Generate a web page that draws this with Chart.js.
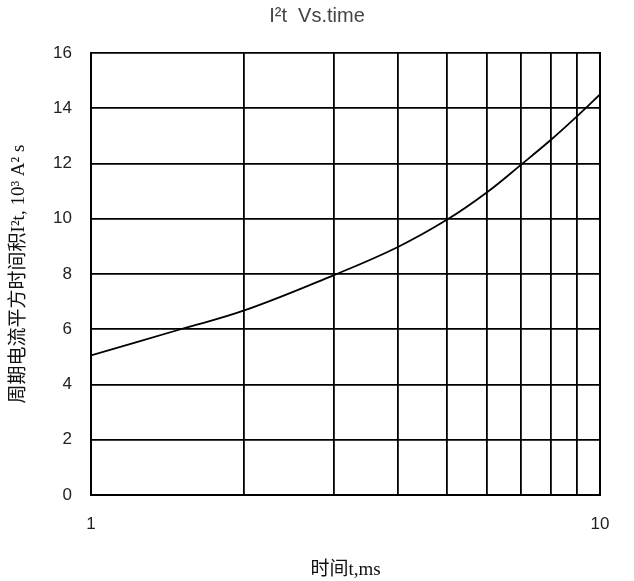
<!DOCTYPE html>
<html>
<head>
<meta charset="utf-8">
<script src="https://cdn.jsdelivr.net/npm/chart.js@4/dist/chart.umd.min.js"></script>
<style>
  html, body { margin: 0; padding: 0; background: #fff; }
  #wrap { width: 634px; height: 581px; }
</style>
</head>
<body>
<div id="wrap"><canvas id="c" width="634" height="581"></canvas></div>
<script>
// I²t vs time
const timeMs = [1, 1.5, 2, 3, 4, 5, 6, 7, 8, 9, 10];
const i2tValues = [5.05, 6.0, 6.68, 7.96, 8.97, 9.96, 10.96, 11.96, 12.85, 13.7, 14.5];
const xGridTicks = [1, 2, 3, 4, 5, 6, 7, 8, 9, 10];
const xLabelTicks = [1, 10];
const yTicks = [0, 2, 4, 6, 8, 10, 12, 14, 16];

const tickFont = { family: "'Liberation Sans', Arial, sans-serif", size: 17 };
const cjkFont = { family: "'Liberation Serif', 'Noto Sans CJK SC', serif", size: 19 };

new Chart(document.getElementById('c'), {
  type: 'line',
  data: {
    datasets: [{
      data: timeMs.map((t, i) => ({ x: t, y: i2tValues[i] })),
      borderColor: '#000',
      borderWidth: 1.8,
      pointRadius: 0,
      tension: 0.4,
      fill: false
    }]
  },
  options: {
    responsive: false,
    animation: false,
    layout: { padding: 0 },
    plugins: {
      legend: { display: false },
      tooltip: { enabled: false },
      title: {
        display: true,
        text: 'I²t  Vs.time',
        color: '#444',
        font: { family: "'Liberation Sans', Arial, sans-serif", size: 20, weight: 'normal' },
        padding: { top: 4, bottom: 25 }
      }
    },
    scales: {
      x: {
        type: 'logarithmic',
        min: 1,
        max: 10,
        afterBuildTicks: s => { s.ticks = xGridTicks.map(v => ({ value: v })); },
        afterFit: s => { s.height = 86; },
        grid: { color: '#000', lineWidth: 1.8, drawTicks: false },
        border: { color: '#000', width: 2 },
        ticks: {
          color: '#222',
          font: tickFont,
          padding: 19,
          maxRotation: 0,
          autoSkip: false,
          callback: v => xLabelTicks.includes(v) ? String(v) : ''
        },
        title: {
          display: true,
          text: '时间t,ms',
          color: '#111',
          font: cjkFont,
          padding: { top: 0, bottom: 0 }
        }
      },
      y: {
        min: 0,
        max: 16,
        afterBuildTicks: s => { s.ticks = yTicks.map(v => ({ value: v })); },
        afterFit: s => { s.width = 91; },
        grid: { color: '#000', lineWidth: 1.8, drawTicks: false },
        border: { color: '#000', width: 2 },
        ticks: { color: '#222', font: tickFont, padding: 19 },
        title: {
          display: true,
          text: '周期电流平方时间积I²t, 10³ A² s',
          color: '#111',
          font: cjkFont,
          padding: { top: 8, bottom: 0 }
        }
      },
      yRight: {
        position: 'right',
        min: 0,
        max: 16,
        afterFit: s => { s.width = 34; },
        grid: { display: false, drawTicks: false },
        border: { color: '#000', width: 2 },
        ticks: { display: false }
      }
    }
  }
});
</script>
</body>
</html>
